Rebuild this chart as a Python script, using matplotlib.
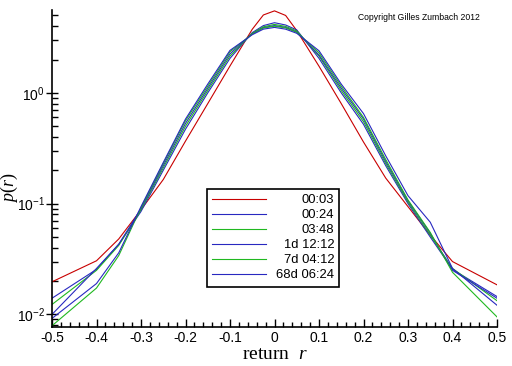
import matplotlib
matplotlib.use("Agg")
import matplotlib.pyplot as plt
from matplotlib.ticker import LogLocator, FixedLocator, MultipleLocator, NullFormatter

# Return grid and densities
r = [-0.5, -0.4, -0.35, -0.3, -0.25, -0.2, -0.15, -0.1, -0.05, -0.025, 0.0,
     0.025, 0.05, 0.1, 0.15, 0.2, 0.25, 0.3, 0.35, 0.4, 0.5]

p_0003 = [0.0197, 0.0305, 0.048, 0.088, 0.165, 0.367, 0.80, 1.75, 3.75, 5.05, 5.5,
          5.0, 3.65, 1.74, 0.80, 0.36, 0.17, 0.094, 0.052, 0.030, 0.0185]
p_0024 = [0.0140, 0.0255, 0.043, 0.085, 0.20, 0.47, 1.00, 2.05, 3.50, 4.05, 4.30,
          4.10, 3.70, 2.05, 1.00, 0.52, 0.22, 0.100, 0.050, 0.0255, 0.0145]
p_0348 = [0.0123, 0.0250, 0.042, 0.088, 0.21, 0.50, 1.05, 2.15, 3.45, 3.95, 4.15,
          3.98, 3.62, 2.15, 1.05, 0.55, 0.23, 0.103, 0.052, 0.026, 0.0133]
p_1d = [0.0100, 0.0260, 0.043, 0.090, 0.22, 0.53, 1.10, 2.25, 3.42, 3.88, 4.05,
        3.90, 3.55, 2.20, 1.10, 0.58, 0.24, 0.106, 0.054, 0.025, 0.0140]
p_7d = [0.0079, 0.0173, 0.034, 0.092, 0.23, 0.56, 1.15, 2.35, 3.40, 3.85, 4.00,
        3.86, 3.52, 2.30, 1.15, 0.60, 0.25, 0.108, 0.055, 0.024, 0.0095]
p_68d = [0.0092, 0.0190, 0.036, 0.094, 0.235, 0.58, 1.20, 2.42, 3.35, 3.76, 3.90,
         3.76, 3.45, 2.40, 1.20, 0.65, 0.27, 0.118, 0.068, 0.026, 0.0121]

series = [p_0003, p_0024, p_0348, p_1d, p_7d, p_68d]
labels = ["00:03", "00:24", "03:48", "1d 12:12", "7d 04:12", "68d 06:24"]
colors = ["#c80000", "#2828c0", "#20b820", "#2828c0", "#20b820", "#2828c0"]

plt.rcParams['font.family'] = ['Liberation Sans', 'DejaVu Sans']
plt.rcParams['mathtext.fontset'] = 'custom'
plt.rcParams['mathtext.rm'] = 'Liberation Serif'
plt.rcParams['mathtext.it'] = 'Liberation Serif:italic'
plt.rcParams['mathtext.sf'] = 'Liberation Sans'

fig = plt.figure(figsize=(5.12, 3.66), dpi=100)
ax = fig.add_axes([52 / 512, 39 / 366, 445 / 512, 317 / 366])

for vals, lab, col in zip(series, labels, colors):
    ax.plot(r, vals, color=col, lw=0.8, label=lab)

ax.set_yscale('log')
ax.set_xlim(-0.5, 0.5)
ax.set_ylim(0.0077, 5.6)

ax.spines['top'].set_visible(False)
ax.spines['right'].set_visible(False)
ax.spines['left'].set_linewidth(1.2)
ax.spines['bottom'].set_linewidth(1.2)

ax.xaxis.set_minor_locator(MultipleLocator(0.02))
ax.set_xticks([-0.5, -0.4, -0.3, -0.2, -0.1, 0, 0.1, 0.2, 0.3, 0.4, 0.5])
ax.set_xticklabels(["-0.5", "-0.4", "-0.3", "-0.2", "-0.1", "0",
                    "0.1", "0.2", "0.3", "0.4", "0.5"])
ax.yaxis.set_major_locator(FixedLocator([0.01, 0.1, 1.0]))
ax.set_yticklabels(["$\\mathsf{10^{-2}}$", "$\\mathsf{10^{-1}}$", "$\\mathsf{10^{0}}$"])
ax.yaxis.set_minor_locator(LogLocator(base=10, subs=range(2, 10)))
ax.yaxis.set_minor_formatter(NullFormatter())

ax.tick_params(axis='x', which='major', direction='in', length=6, width=1, labelsize=10, pad=3)
ax.tick_params(axis='x', which='minor', direction='in', length=3.5, width=1)
ax.tick_params(axis='y', which='major', direction='inout', length=8, width=1, labelsize=10, pad=1)
ax.tick_params(axis='y', which='minor', direction='in', length=4, width=1)

ax.set_xlabel("return  $r$", family='Liberation Serif', fontsize=14, labelpad=0)
ax.xaxis.set_label_coords(0.5, -0.06)
ax.set_ylabel("$p(r)$", fontsize=13)
ax.yaxis.set_label_coords(-0.072, 0.44)

fig.text(358 / 512, 1 - 17 / 366, "Copyright Gilles Zumbach 2012", fontsize=6.2, va='center')

leg = ax.legend(loc='upper left', bbox_to_anchor=(155 / 445, 1 - 179 / 317),
                fontsize=9.4, handlelength=4.1, handletextpad=0.8,
                labelspacing=0.22, borderpad=0.4, fancybox=False,
                framealpha=1, edgecolor='black', borderaxespad=0)
leg.get_frame().set_linewidth(1.2)

# right-align the legend labels: hide the packed texts and redraw them flush right
fig.canvas.draw()
renderer = fig.canvas.get_renderer()
boxes = [t.get_window_extent(renderer) for t in leg.get_texts()]
right = max(b.x1 for b in boxes)
for t, b in zip(leg.get_texts(), boxes):
    t.set_visible(False)
    fig.text(right / fig.bbox.width, (b.y0 + b.y1) / 2 / fig.bbox.height, t.get_text(),
             fontsize=9.4, ha='right', va='center')

fig.savefig("out.png", dpi=100)
